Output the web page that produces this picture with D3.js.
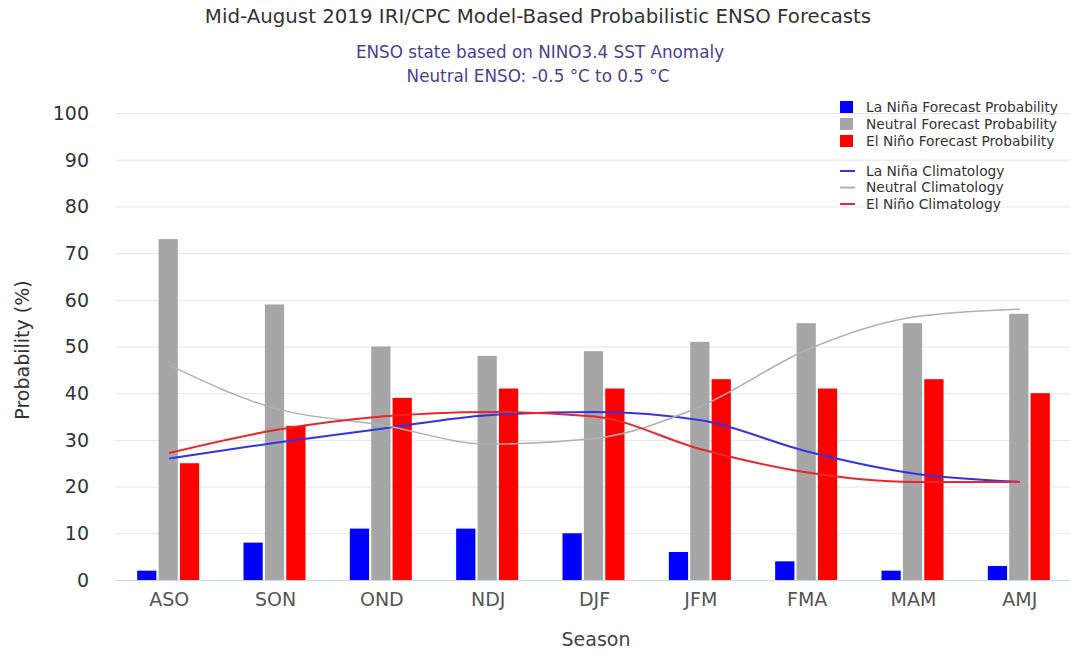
<!DOCTYPE html>
<html>
<head>
<meta charset="utf-8">
<script src="https://cdn.jsdelivr.net/npm/d3@7"></script>
<style>
  body { margin: 0; background: #fff; }
  svg { font-family: "DejaVu Sans", sans-serif; }
</style>
</head>
<body>
<svg width="1070" height="654"></svg>
<script>
const seasons = ['ASO', 'SON', 'OND', 'NDJ', 'DJF', 'JFM', 'FMA', 'MAM', 'AMJ'];
const series = ['La Niña', 'Neutral', 'El Niño'];

// forecast probabilities (%)
const laNinaProb = [2, 8, 11, 11, 10, 6, 4, 2, 3];
const neutralProb = [73, 59, 50, 48, 49, 51, 55, 55, 57];
const elNinoProb = [25, 33, 39, 41, 41, 43, 41, 43, 40];

// climatology (%)
const laNinaClim = [26, 29.4, 32.4, 35.3, 36, 34.2, 27.5, 22.8, 21];
const neutralClim = [46, 36.7, 33.2, 29.1, 30.3, 37.2, 49.3, 56.3, 58];
const elNinoClim = [27.2, 32.1, 35, 36, 35, 28, 23, 21, 21];

const yTicks = [0, 10, 20, 30, 40, 50, 60, 70, 80, 90, 100];

const barColors = ['#0000ff', '#a6a6a6', '#ff0000'];
const lineColors = ['#3333e6', '#b0b0b0', '#e8262b'];

const svg = d3.select('svg');

const plotLeft = 116, plotRight = 1073, plotTop = 113, plotBottom = 580;

const x = d3.scaleBand()
    .domain(seasons)
    .range([plotLeft, plotRight]);

const xInner = d3.scaleBand()
    .domain(series)
    .range([-32, 30])
    .paddingInner(0.1);

const y = d3.scaleLinear()
    .domain([0, 100])
    .range([plotBottom, plotTop]);

// grid
svg.append('g')
    .attr('transform', `translate(${plotLeft},0)`)
    .call(d3.axisLeft(y).tickValues(yTicks).tickSize(-(1070 - plotLeft)).tickFormat(''))
    .call(g => g.select('.domain').remove())
    .call(g => g.selectAll('line').attr('stroke', '#e6e6e6'));

// y labels
svg.append('g')
    .selectAll('text')
    .data(yTicks)
    .enter()
    .append('text')
    .attr('x', 89)
    .attr('y', d => y(d))
    .attr('dy', '0.36em')
    .attr('text-anchor', 'end')
    .attr('font-size', 19)
    .attr('fill', '#333')
    .text(d => d);

// x axis
const xAxis = svg.append('g')
    .attr('transform', `translate(0,${plotBottom})`)
    .call(d3.axisBottom(x).tickSize(0).tickPadding(13));
xAxis.select('.domain').attr('stroke', '#ccd6eb').attr('d', `M${plotLeft},0.5H1070`);
xAxis.selectAll('text').attr('font-size', 19).attr('fill', '#555')
    .attr('font-family', '"DejaVu Sans", sans-serif');

// bars
const probs = [laNinaProb, neutralProb, elNinoProb];
const barData = [];
seasons.forEach((s, i) => {
    series.forEach((k, j) => barData.push({ season: s, key: k, value: probs[j][i], color: barColors[j] }));
});

svg.append('g')
    .selectAll('rect')
    .data(barData)
    .enter()
    .append('rect')
    .attr('x', d => x(d.season) + x.bandwidth() / 2 + xInner(d.key))
    .attr('y', d => y(d.value))
    .attr('width', xInner.bandwidth())
    .attr('height', d => plotBottom - y(d.value))
    .attr('fill', d => d.color);

// climatology lines
const clims = [laNinaClim, neutralClim, elNinoClim];
const line = d3.line()
    .x((d, i) => x(seasons[i]) + x.bandwidth() / 2)
    .y(d => y(d))
    .curve(d3.curveMonotoneX);

svg.append('g')
    .selectAll('path')
    .data(clims)
    .enter()
    .append('path')
    .attr('d', line)
    .attr('fill', 'none')
    .attr('stroke', (d, i) => lineColors[i])
    .attr('stroke-width', (d, i) => i === 1 ? 1.5 : 2);

// titles
svg.append('text')
    .attr('x', 538).attr('y', 23)
    .attr('text-anchor', 'middle')
    .attr('font-size', 19.8)
    .attr('fill', '#333')
    .text('Mid-August 2019 IRI/CPC Model-Based Probabilistic ENSO Forecasts');

svg.append('text')
    .attr('x', 540).attr('y', 58)
    .attr('text-anchor', 'middle')
    .attr('font-size', 16.8)
    .attr('fill', '#4b3f91')
    .text('ENSO state based on NINO3.4 SST Anomaly');

svg.append('text')
    .attr('x', 538).attr('y', 82)
    .attr('text-anchor', 'middle')
    .attr('font-size', 16.8)
    .attr('fill', '#4b3f91')
    .text('Neutral ENSO: -0.5 °C to 0.5 °C');

svg.append('text')
    .attr('transform', 'translate(29,350) rotate(-90)')
    .attr('text-anchor', 'middle')
    .attr('font-size', 19)
    .attr('fill', '#333')
    .text('Probability (%)');

svg.append('text')
    .attr('x', 596).attr('y', 646)
    .attr('text-anchor', 'middle')
    .attr('font-size', 19)
    .attr('fill', '#444')
    .text('Season');

// legend
const legendBars = series.map(s => s + ' Forecast Probability');
const legendLines = series.map(s => s + ' Climatology');

const lb = svg.append('g').selectAll('g')
    .data(legendBars)
    .enter()
    .append('g')
    .attr('transform', (d, i) => `translate(840,${107 + i * 17})`);
lb.append('rect')
    .attr('x', 0).attr('y', -6)
    .attr('width', 13).attr('height', 12)
    .attr('fill', (d, i) => barColors[i]);
lb.append('text')
    .attr('x', 26).attr('dy', '0.35em')
    .attr('font-size', 13.8)
    .attr('fill', '#333')
    .text(d => d);

const ll = svg.append('g').selectAll('g')
    .data(legendLines)
    .enter()
    .append('g')
    .attr('transform', (d, i) => `translate(840,${171 + i * 16.5})`);
ll.append('line')
    .attr('x1', 0).attr('x2', 15)
    .attr('stroke', (d, i) => lineColors[i])
    .attr('stroke-width', 2);
ll.append('text')
    .attr('x', 26).attr('dy', '0.35em')
    .attr('font-size', 13.8)
    .attr('fill', '#333')
    .text(d => d);
</script>
</body>
</html>
